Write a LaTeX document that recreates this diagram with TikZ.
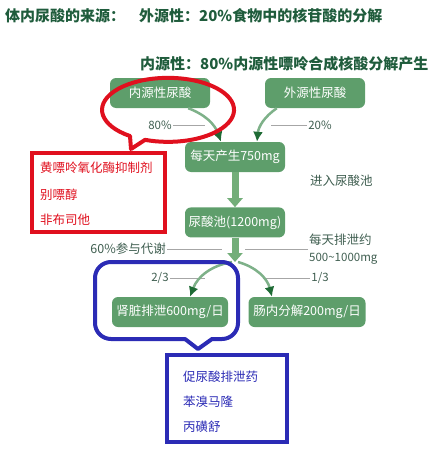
\documentclass[tikz,border=0pt]{standalone}
\usepackage{fontspec}
\setmainfont{Noto Sans CJK SC}
\usetikzlibrary{arrows.meta,positioning}
\definecolor{boxgreen}{HTML}{5E9E6B}
\definecolor{flowgreen}{HTML}{73AE79}
\definecolor{headgreen}{HTML}{1E6B35}
\definecolor{titlegreen}{HTML}{1F5C3C}
\definecolor{labelgray}{HTML}{3F5E50}
\definecolor{markred}{HTML}{E0101E}
\definecolor{markblue}{HTML}{2B2BB5}

\begin{document}
\begin{tikzpicture}[x=1pt,y=-1pt,
	box/.style={rectangle,rounded corners=6pt,fill=boxgreen,text=white,minimum width=100pt,minimum height=30pt,inner sep=0pt,font=\fontsize{12.5}{14}\selectfont},
	title/.style={anchor=west,inner sep=0pt,text=titlegreen,font=\fontsize{15}{17}\selectfont\bfseries},
	lbl/.style={text=labelgray,inner sep=1pt,font=\fontsize{11.5}{17}\selectfont},
	leader/.style={draw=black!35,line width=0.6pt},
	flow/.style={draw=flowgreen,line width=7pt,-{Triangle[length=9pt,width=15pt]}},
	bendarrow/.style={draw=boxgreen!80,line width=2.5pt,-{Latex[length=10pt,width=10pt,color=headgreen]}},
	drug/.style={anchor=west,inner sep=0pt,font=\fontsize{12.5}{14}\selectfont}]
	\useasboundingbox (0,0) rectangle (444,452);
	% titles
	\node[title] (head) at (5,16) {体内尿酸的来源：};
	\node[title] (exosrc) at (139,16) {外源性：20\%食物中的核苷酸的分解};
	\node[title] (endosrc) at (140,64) {内源性：80\%内源性嘌呤合成核酸分解产生};
	% flow boxes
	\node[box] (endo) at (160,93) {内源性尿酸};
	\node[box] (exo) at (315,93) {外源性尿酸};
	\node[box] (daily) at (235,157) {每天产生750mg};
	\node[box] [below=35pt of daily] (pool) {尿酸池(1200mg)};
	\node[box,minimum width=116pt] (kidney) at (170,312) {肾脏排泄600mg/日};
	\node[box,minimum width=117pt] (gut) at (307,312) {肠内分解200mg/日};
	\coordinate (split) at (235,262);
	% labels
	\node[lbl] (l80) at (160,125) {80\%};
	\node[lbl] (l20) at (320,125) {20\%};
	\node[lbl,anchor=west,font=\fontsize{12.5}{14}\selectfont] (lin) at (309,181) {进入尿酸池};
	\node[lbl,anchor=east,font=\fontsize{12.5}{14}\selectfont] (l60) at (167,249) {60\%参与代谢};
	\node[lbl,anchor=west,align=left] (lout) at (308,249) {{\fontsize{12.5}{17}\selectfont 每天排泄约}\\500\textasciitilde1000mg};
	\node[lbl] (l23) at (160,278) {2/3};
	\node[lbl] (l13) at (320,278) {1/3};
	\draw[leader] (l80.east) -- ++(32,0);
	\draw[leader] (l20.west) -- ++(-36,0);
	\draw[leader] (l60.east) -- ++(55,0);
	\draw[leader] (lout.west) -- ++(-63,0);
	\draw[leader] (l23.east) -- ++(35,0);
	\draw[leader] (l13.west) -- ++(-47,0);
	% arrows
	\draw[bendarrow] ([xshift=-22pt]endo.south east) to[bend left=25] ([xshift=-14pt]daily.north);
	\draw[bendarrow] ([xshift=12pt]exo.south west) to[bend right=25] ([xshift=22pt]daily.north);
	\draw[flow] (daily) -- (pool);
	\draw[flow] (pool) -- (split);
	\draw[bendarrow] ([xshift=-3pt]split) to[bend right=30] ([xshift=20pt]kidney.north);
	\draw[bendarrow] ([xshift=3pt]split) to[bend left=30] ([xshift=-35pt]gut.north);
	% red marks
	\draw[markred,line width=4pt,line join=round] (130,136) arc[start angle=125.2,end angle=470.4,x radius=66,y radius=32] -- (131,149) -- cycle;
	\draw[markred,line width=4pt] (32,153) rectangle (165,232);
	\node[drug,text=markred] (xo) at (40,168) {黄嘌呤氧化酶抑制剂};
	\node[drug,text=markred] (allo) at (40,195) {别嘌醇};
	\node[drug,text=markred] (febu) at (40,220) {非布司他};
	% blue marks
	\draw[markblue,line width=4pt,line join=round] (198,349) -- (185,339) [rounded corners=16pt] -- (95,339) -- (95,262) -- (238,262) -- (238,339) [sharp corners] -- (212,339) -- cycle;
	\draw[markblue,line width=4pt] (167,355) rectangle (287,442);
	\node[drug,text=markblue] (uric) at (183,377) {促尿酸排泄药};
	\node[drug,text=markblue] (benz) at (183,402) {苯溴马隆};
	\node[drug,text=markblue] (prob) at (183,427) {丙磺舒};
\end{tikzpicture}
\end{document}
